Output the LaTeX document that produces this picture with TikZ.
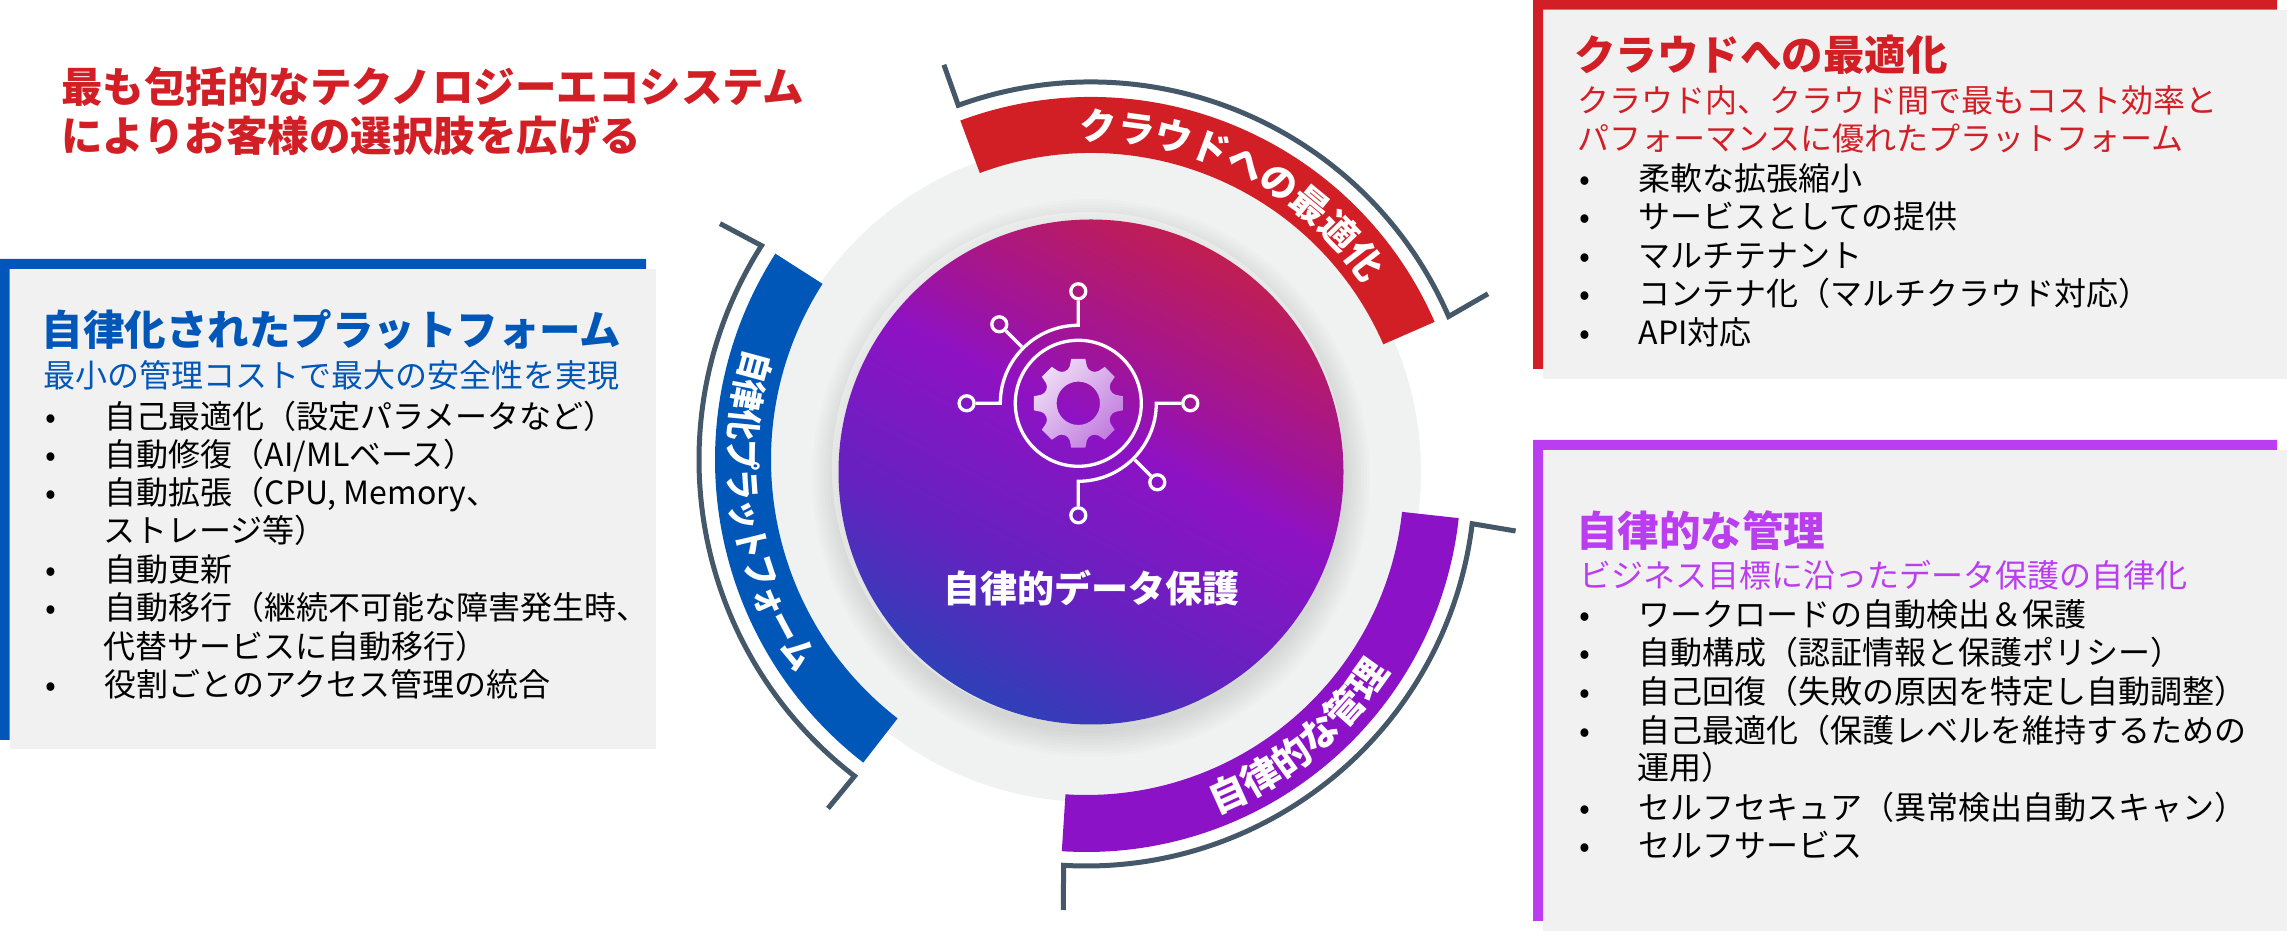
\documentclass[tikz,border=0pt]{standalone}
\usepackage{fontspec}
\setmainfont{Noto Sans CJK JP}
\newfontfamily\bandfont{Noto Sans CJK JP}[FakeStretch=0.86]
\usetikzlibrary{decorations.text}
\definecolor{cloudred}{HTML}{D21F26}
\definecolor{autoblue}{HTML}{0057B8}
\definecolor{bandpurple}{HTML}{8C12C8}
\definecolor{sidepurple}{HTML}{BB3DF0}
\definecolor{panelgray}{HTML}{F1F1F2}
\definecolor{ringgray}{HTML}{F0F1F1}
\definecolor{slate}{HTML}{44586A}
\definecolor{discA}{HTML}{2F40B8}
\definecolor{discB}{HTML}{6522C0}
\definecolor{discC}{HTML}{8E12C4}
\definecolor{discD}{HTML}{A0149A}
\definecolor{discE}{HTML}{C01E52}
\pgfdeclareverticalshading{discfill}{100bp}{color(0bp)=(discA); color(25bp)=(discA); color(38bp)=(discB); color(54bp)=(discC); color(60.5bp)=(discD); color(75bp)=(discE); color(100bp)=(discE)}
\newcommand{\itemdot}{\makebox[59.5pt][l]{•}}
\tikzset{
	headtext/.style={anchor=west, inner sep=0pt, text height=36pt, text depth=5pt, font=\fontsize{41.5}{42}\selectfont\bfseries},
	subtext/.style={anchor=west, inner sep=0pt, text height=28pt, text depth=4pt, font=\fontsize{32}{32}\selectfont},
	itemtext/.style={anchor=west, inner sep=0pt, text height=27pt, text depth=4pt, font=\fontsize{32}{32}\selectfont},
	bracket/.style={draw=slate, line width=5pt, miter limit=10},
	curvetext/.style={decorate, decoration={text along path, text color=white, text align=center}},
	iconline/.style={draw=white, line width=3.3pt},
	iconpin/.style={circle, draw=white, line width=3.3pt, minimum size=15pt, inner sep=0pt}
}
\begin{document}
\begin{tikzpicture}[x=1pt,y=1pt]
	\useasboundingbox (0,0) rectangle (2287,931);
	% side panels
	\fill[panelgray] (9.5,662) rectangle (656,182);
	\fill[autoblue] (0,191) -- (0,672) -- (646,672) -- (646,662) -- (9.5,662) -- (9.5,191) -- cycle;
	\fill[panelgray] (1543,921.4) rectangle (2287,552);
	\fill[cloudred] (1533,562) -- (1533,931) -- (2277,931) -- (2277,921.4) -- (1543,921.4) -- (1543,562) -- cycle;
	\fill[panelgray] (1543,481) rectangle (2287,0);
	\fill[sidepurple] (1533,10) -- (1533,491) -- (2277,491) -- (2277,481) -- (1543,481) -- (1543,10) -- cycle;
	% header
	\node[headtext, text=cloudred] (lead1) at (61,843.5) {最も包括的なテクノロジーエコシステム};
	\node[headtext, text=cloudred] (lead2) at (61,794.5) {によりお客様の選択肢を広げる};
	% left panel
	\node[headtext, text=autoblue] (autotitle) at (41.5,601) {自律化されたプラットフォーム};
	\node[subtext, text=autoblue] (autosub) at (43,555) {最小の管理コストで最大の安全性を実現};
	\node[itemtext] (auto1) at (45,514.2) {\itemdot 自己最適化（設定パラメータなど）};
	\node[itemtext] (auto2) at (45,475.8) {\itemdot 自動修復（AI/MLベース）};
	\node[itemtext] (auto3) at (45,438) {\itemdot 自動拡張（CPU, Memory、};
	\node[itemtext] (auto3b) at (103,400) {ストレージ等）};
	\node[itemtext] (auto4) at (45,361.4) {\itemdot 自動更新};
	\node[itemtext] (auto5) at (45,322.6) {\itemdot 自動移行（継続不可能な障害発生時、};
	\node[itemtext] (auto5b) at (103,284.4) {代替サービスに自動移行）};
	\node[itemtext] (auto6) at (45,246.3) {\itemdot 役割ごとのアクセス管理の統合};
	% right upper panel
	\node[headtext, text=cloudred] (cloudtitle) at (1574,876.3) {クラウドへの最適化};
	\node[subtext, text=cloudred] (cloudsub1) at (1577,830.5) {クラウド内、クラウド間で最もコスト効率と};
	\node[subtext, text=cloudred] (cloudsub2) at (1577,792.4) {パフォーマンスに優れたプラットフォーム};
	\node[itemtext] (cloud1) at (1579.2,751.6) {\itemdot 柔軟な拡張縮小};
	\node[itemtext] (cloud2) at (1579.2,713.5) {\itemdot サービスとしての提供};
	\node[itemtext] (cloud3) at (1579.2,674.7) {\itemdot マルチテナント};
	\node[itemtext] (cloud4) at (1579.2,637.2) {\itemdot コンテナ化（マルチクラウド対応）};
	\node[itemtext] (cloud5) at (1579.2,598.4) {\itemdot API対応};
	% right lower panel
	\node[headtext, text=sidepurple] (mgmttitle) at (1576,400) {自律的な管理};
	\node[subtext, text=sidepurple] (mgmtsub) at (1579,355) {ビジネス目標に沿ったデータ保護の自律化};
	\node[itemtext] (mgmt1) at (1579.2,316) {\itemdot ワークロードの自動検出＆保護};
	\node[itemtext] (mgmt2) at (1579.2,277.7) {\itemdot 自動構成（認証情報と保護ポリシー）};
	\node[itemtext] (mgmt3) at (1579.2,239.3) {\itemdot 自己回復（失敗の原因を特定し自動調整）};
	\node[itemtext] (mgmt4) at (1579.2,200.3) {\itemdot 自己最適化（保護レベルを維持するための};
	\node[itemtext] (mgmt4b) at (1637,162.7) {運用）};
	\node[itemtext] (mgmt5) at (1579.2,123.3) {\itemdot セルフセキュア（異常検出自動スキャン）};
	\node[itemtext] (mgmt6) at (1579.2,85) {\itemdot セルフサービス};
	% ring and disc
	\coordinate (mid) at (1091,459);
	\coordinate (blue) at (1098,471);
	\coordinate (purple) at (1086,454);
	\fill[ringgray] (mid) circle[radius=330];
	\foreach \s in {3,6,...,27} \fill[black, opacity=.012] (1091,453) circle[radius=252+\s];
	\fill[white, opacity=.35] (1088,463) circle[radius=256];
	\shade[shading=discfill, shading angle=-28] (mid) circle[radius=252.5];
	% colour bands
	\fill[cloudred] ([shift={(110.4:375)}]mid) arc[start angle=110.4, end angle=23.6, radius=375] -- ([shift={(23.6:319)}]mid) arc[start angle=23.6, end angle=110.4, radius=319] -- cycle;
	\fill[autoblue] ([shift={(147.4:383)}]blue) arc[start angle=147.4, end angle=232.2, radius=383] -- ([shift={(232.2:327)}]blue) arc[start angle=232.2, end angle=147.4, radius=327] -- cycle;
	\fill[bandpurple] ([shift={(-6.3:375)}]purple) arc[start angle=-6.3, end angle=-93.7, radius=375] -- ([shift={(-93.7:318)}]purple) arc[start angle=-93.7, end angle=-6.3, radius=318] -- cycle;
	% brackets
	\draw[bracket] (943.9,866.2) -- ([shift={(109.9:390)}]mid) arc[start angle=109.9, end angle=23.5, radius=390] -- (1488,637.2);
	\draw[bracket] (720,707.4) -- ([shift={(147.5:399)}]blue) arc[start angle=147.5, end angle=232.4, radius=399] -- (828,122.6);
	\draw[bracket] (1515.6,400) -- ([shift={(-6.9:389)}]purple) arc[start angle=-6.9, end angle=-93.3, radius=389] -- (1063.3,21);
	% curved labels
	\path[curvetext, decoration={text={|\fontsize{37}{37}\selectfont\bfseries|クラウドへの最適化}}] ([shift={(123.3:332)}]mid) arc[start angle=123.3, end angle=3.3, radius=332];
	\path[curvetext, decoration={text={|\bandfont\fontsize{36}{36}\selectfont\bfseries|自律化プラットフォーム}}] ([shift={(138.8:369)}]blue) arc[start angle=138.8, end angle=238.8, radius=369];
	\path[curvetext, decoration={text={|\fontsize{38}{38}\selectfont\bfseries|自律的な管理}}] ([shift={(-100.75:361)}]purple) arc[start angle=-100.75, end angle=-0.75, radius=361];
	\node[text=white, inner sep=0pt, font=\fontsize{37}{37}\selectfont\bfseries] (disclabel) at (1091,343) {自律的データ保護};
	% icon
	\begin{scope}[shift={(1078.3,527.7)}]
		\shade[even odd rule, top color=white!85!discC, bottom color=white!45!discC, shading angle=45] (-13:38) \foreach \a in {0,45,...,315} { -- (\a-9:45) -- (\a+9:45) -- (\a+13:38) to[bend left=50] (\a+32:38) } -- cycle (0,0) circle[radius=21.7];
		\draw[iconline] (0,0) circle[radius=63];
		\node[iconpin] (pinw) at (-111.7,0) {};
		\node[iconpin] (pine) at (112,0) {};
		\node[iconpin] (pinn) at (0,112) {};
		\node[iconpin] (pins) at (0,-112) {};
		\node[iconpin] (pinnw) at (-79,79) {};
		\node[iconpin] (pinse) at (79,-79) {};
		\draw[iconline] (pinw) -- (-78,0) arc[start angle=180, end angle=90, radius=78] -- (pinn);
		\draw[iconline] (pine) -- (78,0) arc[start angle=0, end angle=-90, radius=78] -- (pins);
		\draw[iconline] (pinnw) -- (135:80);
		\draw[iconline] (pinse) -- (-45:80);
	\end{scope}
\end{tikzpicture}
\end{document}
